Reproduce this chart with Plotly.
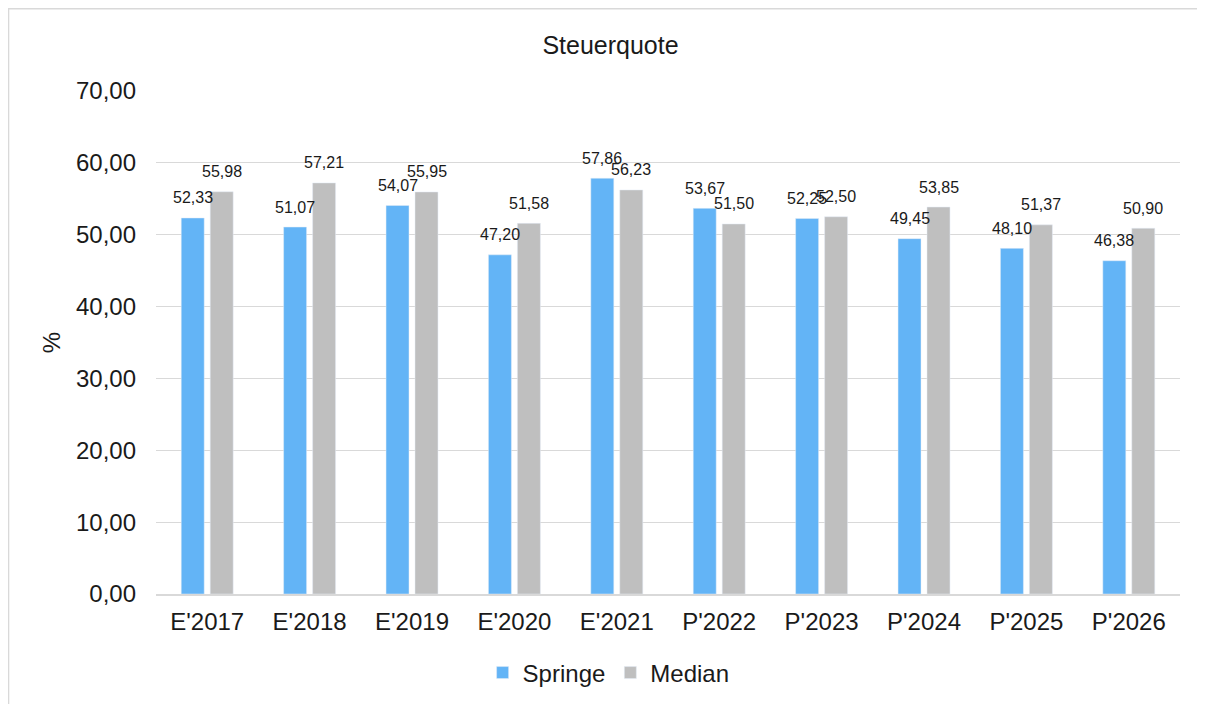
import plotly.graph_objects as go

categories = ["E'2017", "E'2018", "E'2019", "E'2020", "E'2021",
              "P'2022", "P'2023", "P'2024", "P'2025", "P'2026"]
springe = [52.33, 51.07, 54.07, 47.20, 57.86, 53.67, 52.25, 49.45, 48.10, 46.38]
median = [55.98, 57.21, 55.95, 51.58, 56.23, 51.50, 52.50, 53.85, 51.37, 50.90]

FONT = "Arial, Liberation Sans, sans-serif"
TEXT = "#1a1a1a"
BLUE = "#63B4F6"
GRAY = "#BFBFBF"

fig = go.Figure()
fig.add_trace(go.Bar(x=categories, y=springe, name="Springe", marker_color=BLUE))
fig.add_trace(go.Bar(x=categories, y=median, name="Median", marker_color=GRAY))


def fmt(v):
    return f"{v:.2f}".replace(".", ",")


# data labels sit ~20px above each bar, centred on it
annotations = []
for series, dx in ((springe, -14.5), (median, 14.5)):
    for cat, v in zip(categories, series):
        annotations.append(dict(x=cat, y=v, text=fmt(v), showarrow=False, xshift=dx,
                                yshift=20, yanchor="middle",
                                font=dict(size=16, color=TEXT)))

fig.update_layout(
    width=1205,
    height=704,
    margin=dict(l=148, r=33, t=83, b=118),
    paper_bgcolor="white",
    plot_bgcolor="white",
    font=dict(family=FONT, color=TEXT),
    separators=",.",
    title=dict(text="Steuerquote", x=0.5, xanchor="center", y=1 - 37 / 704,
               yanchor="middle", font=dict(size=25, color=TEXT)),
    barmode="group",
    bargap=0.434,
    bargroupgap=0.207,
    showlegend=True,
    legend=dict(orientation="h", x=0.442, xanchor="center", y=-0.157, yanchor="middle",
                font=dict(size=24), traceorder="normal"),
    annotations=annotations,
    shapes=[dict(type="rect", xref="paper", yref="paper",
                 x0=-0.144, x1=1.05, y0=-0.3, y1=1.1635,
                 line=dict(color="#D9D9D9", width=1.5), layer="below")],
)

fig.update_yaxes(
    range=[0, 70],
    dtick=10,
    tickformat=".2f",
    showgrid=True,
    gridcolor="#D9D9D9",
    gridwidth=1.3,
    zeroline=False,
    showline=False,
    tickfont=dict(size=24),
    ticks="",
    ticklabelstandoff=19,
    title=dict(text="%", font=dict(size=24), standoff=8),
)
fig.update_xaxes(
    showline=True,
    linecolor="#D9D9D9",
    linewidth=1.5,
    tickfont=dict(size=24),
    ticks="",
    ticklabelstandoff=5,
)

fig.write_html("out.html")
